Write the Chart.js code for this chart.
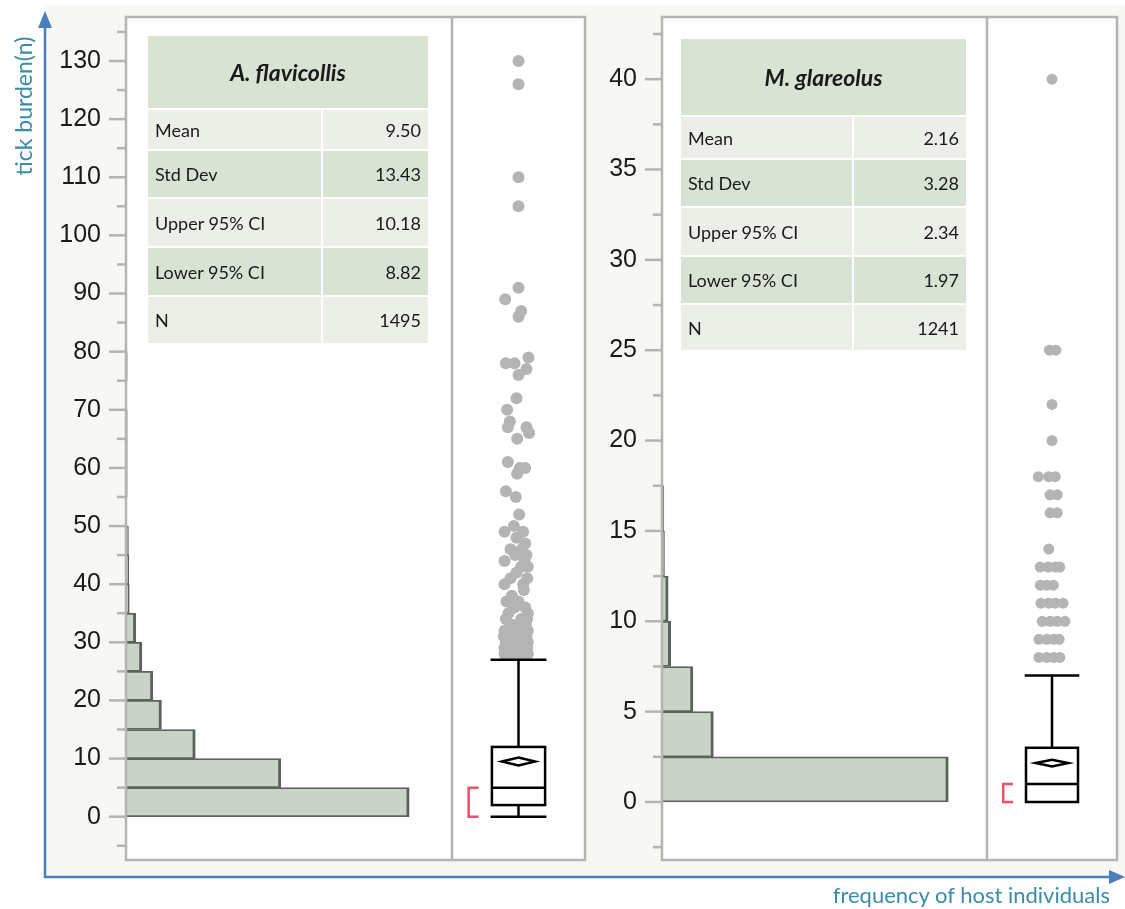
<!DOCTYPE html>
<html>
<head>
<meta charset="utf-8">
<script src="https://cdn.jsdelivr.net/npm/chart.js@4/dist/chart.umd.min.js"></script>
<style>
  body { margin: 0; background: #fff; }
  #wrap { position: relative; width: 1125px; height: 909px; overflow: hidden; font-family: Lato, "Noto Sans", sans-serif; }
  #bg { position: absolute; left: 45px; top: 5px; width: 1080px; height: 872px; background: #f7f8f4; }
  canvas { position: absolute; top: 0; }
  #leftChart { left: 0; }
  #rightChart { left: 590px; }
  svg { position: absolute; left: 0; top: 0; pointer-events: none; }
  .tbl { position: absolute; display: grid; gap: 2px; }
  .tbl div { display: flex; align-items: center; padding: 0 7px; font-size: 18px; color: #1a1a1a; white-space: nowrap; }
  .tbl .t { grid-column: 1 / span 2; justify-content: center; font-weight: bold; font-style: italic; font-size: 23px; }
  .tbl .v { justify-content: flex-end; }
  .dk { background: #d8e3d3; }
  .lt { background: #ebefe8; }
</style>
</head>
<body>
<div id="wrap">
  <div id="bg"></div>
  <canvas id="leftChart" width="600" height="880"></canvas>
  <canvas id="rightChart" width="535" height="880"></canvas>
  <svg width="1125" height="909">
    <line x1="45" y1="878" x2="45" y2="24" stroke="#4a7ebf" stroke-width="2.5"/>
    <polygon points="45,11 38,28 52,28" fill="#4a7ebf"/>
    <line x1="44" y1="877" x2="1112" y2="877" stroke="#4a7ebf" stroke-width="2.5"/>
    <polygon points="1125,877 1109,870 1109,884" fill="#4a7ebf"/>
    <text transform="translate(32,106) rotate(-90)" text-anchor="middle" fill="#3b8ca6" font-family="Lato, sans-serif" font-size="23">tick burden(n)</text>
    <text x="1110" y="903" text-anchor="end" fill="#3b8ca6" font-family="Lato, sans-serif" font-size="22">frequency of host individuals</text>
  </svg>
  <div class="tbl" id="leftTable"></div>
  <div class="tbl" id="rightTable"></div>
</div>
<script>
// ---- A. flavicollis ----
const flavBins = [0, 5, 10, 15, 20, 25, 30, 35, 40, 45, 50, 55, 60, 65, 70, 75]; // bin start
const flavCounts = [695, 380, 170, 87, 66, 39, 24, 8, 7, 6, 0, 3, 3, 3, 0, 3];
const flavOut = [130, 126, 110, 105, 91, 89, 87, 86, 79, 78, 78, 77, 76, 72, 70, 68, 67, 67, 66, 65,
  61, 60, 60, 59, 56, 55, 52, 50, 49, 49, 48, 47, 46, 46, 45, 45, 44, 44, 43, 43, 42, 41, 41, 40, 40,
  39, 38, 37, 37, 36, 36, 35, 35, 34, 34, 34, 33, 33, 33, 32, 32, 32, 32, 31, 31, 31, 31,
  30, 30, 30, 30, 30, 29, 29, 29, 29, 29, 29, 28, 28, 28, 28, 28, 28, 28];
const flavJit = [0, 0, 0, 0, 0, -0.2, 0.04, 0, 0.15, -0.19, -0.06, 0.12, 0, -0.03, -0.17, -0.13, -0.16, 0.12, 0.16, -0.02,
  -0.16, 0.02, 0.1, -0.02, -0.19, -0.04, 0.01, -0.07, -0.21, 0.07, -0.03, 0.1, -0.12, 0.05, 0.12, -0.05, -0.21, 0.09, 0.04, 0.14, -0.03, -0.12, 0.13, -0.21, 0.07,
  0.08, -0.1, -0.18, 0, 0.1, -0.06, 0.14, -0.15, -0.19, 0.04, 0.13, -0.1, 0.11, 0, -0.21, 0.07, -0.06, 0.14, -0.15, 0.02, 0.12, -0.22,
  -0.19, 0.09, -0.05, 0.14, 0.03, -0.21, -0.1, 0.05, 0.13, 0, 0.1, -0.21, -0.12, 0, 0.09, 0.14, -0.05, 0.12];
const flavBox = [0, 2, 5, 12, 27]; // lower whisker, Q1, median, Q3, upper whisker
const flavShort = [0, 5];          // shortest half
const flavStats = [9.50, 13.43, 10.18, 8.82, 1495]; // mean, std dev, upper CI, lower CI, N
const leftTicks = [0, 10, 20, 30, 40, 50, 60, 70, 80, 90, 100, 110, 120, 130];
const leftMinor = [-5, 5, 15, 25, 35, 45, 55, 65, 75, 85, 95, 105, 115, 125, 135];

// ---- M. glareolus ----
const glarBins = [0, 2.5, 5, 7.5, 10, 12.5, 15];
const glarCounts = [925, 166, 100, 28, 20, 8, 6];
const glarOut = [40, 25, 25, 22, 20, 18, 18, 18, 17, 17, 16, 16, 14, 13, 13, 13, 13, 12, 12, 12,
  11, 11, 11, 11, 10, 10, 10, 10, 9, 9, 9, 9, 8, 8, 8, 8];
const glarJit = [0, -0.04, 0.06, 0, 0, -0.21, -0.05, 0.05, -0.03, 0.08, -0.03, 0.08, -0.05, -0.18, -0.06, 0.05, 0.12, -0.18, -0.08, 0.02,
  -0.17, -0.05, 0.05, 0.17, -0.15, -0.03, 0.08, 0.2, -0.2, -0.08, 0.03, 0.11, -0.2, -0.08, 0.03, 0.12];
const glarBox = [0, 0, 1, 3, 7];
const glarShort = [0, 1];
const glarStats = [2.16, 3.28, 2.34, 1.97, 1241];
const rightTicks = [0, 5, 10, 15, 20, 25, 30, 35, 40];
const rightMinor = [-2.5, 2.5, 7.5, 12.5, 17.5, 22.5, 27.5, 32.5, 37.5, 42.5];

const statLabels = ["Mean", "Std Dev", "Upper 95% CI", "Lower 95% CI", "N"];

// draws frame, tick marks and the box plot on top of the datasets
function panelPlugin(cfg) {
  return {
    id: 'panel',
    beforeDraw(chart) {
      const { ctx, chartArea: a } = chart;
      ctx.save();
      ctx.fillStyle = '#ffffff';
      ctx.fillRect(a.left, a.top, a.width, a.height);
      ctx.restore();
    },
    afterDatasetsDraw(chart) {
      const { ctx, chartArea: a, scales } = chart;
      const Y = v => scales.y.getPixelForValue(v);
      const X = v => scales.xb.getPixelForValue(v);
      const line = (x1, y1, x2, y2) => { ctx.beginPath(); ctx.moveTo(x1, y1); ctx.lineTo(x2, y2); ctx.stroke(); };
      ctx.save();
      ctx.strokeStyle = '#b4b4b4';
      ctx.lineWidth = 2.5;
      ctx.strokeRect(a.left, a.top, a.width, a.height);
      line(scales.x.right, a.top, scales.x.right, a.bottom);
      cfg.ticks.forEach(v => line(a.left - 17, Y(v), a.left, Y(v)));
      cfg.minor.forEach(v => line(a.left - 9, Y(v), a.left, Y(v)));

      // box plot
      const [lo, q1, med, q3, hi] = cfg.box;
      ctx.strokeStyle = '#000';
      line(X(0), Y(q3), X(0), Y(hi));
      line(X(-0.42), Y(hi), X(0.42), Y(hi));
      if (q1 > lo) {
        line(X(0), Y(q1), X(0), Y(lo));
        line(X(-0.42), Y(lo), X(0.42), Y(lo));
      }
      ctx.strokeRect(X(-0.4), Y(q3), X(0.4) - X(-0.4), Y(q1) - Y(q3));
      line(X(-0.4), Y(med), X(0.4), Y(med));
      // means diamond
      ctx.beginPath();
      ctx.moveTo(X(-0.25), Y(cfg.stats[0]));
      ctx.lineTo(X(0), Y(cfg.stats[2]));
      ctx.lineTo(X(0.25), Y(cfg.stats[0]));
      ctx.lineTo(X(0), Y(cfg.stats[3]));
      ctx.closePath();
      ctx.stroke();
      // shortest half bracket
      ctx.strokeStyle = '#f0506a';
      ctx.beginPath();
      ctx.moveTo(X(-0.6), Y(cfg.short[1]));
      ctx.lineTo(X(-0.75), Y(cfg.short[1]));
      ctx.lineTo(X(-0.75), Y(cfg.short[0]));
      ctx.lineTo(X(-0.6), Y(cfg.short[0]));
      ctx.stroke();
      ctx.restore();
    }
  };
}

function makePanel(id, cfg) {
  return new Chart(document.getElementById(id), {
    type: 'scatter',
    data: {
      datasets: [
        {
          type: 'bar', indexAxis: 'y', xAxisID: 'x', yAxisID: 'y', grouped: false,
          data: cfg.bins.map((b, i) => ({ x: cfg.counts[i], y: b + cfg.binW / 2 })),
          backgroundColor: '#c9d3c7', borderColor: '#5c635c',
          borderWidth: { top: 1.75, bottom: 1.75, right: 3, left: 0 }, borderSkipped: 'start',
          barPercentage: 1, categoryPercentage: 1
        },
        {
          type: 'scatter', xAxisID: 'xb', yAxisID: 'y',
          data: cfg.out.map((v, i) => ({ x: cfg.jit[i], y: v })),
          pointRadius: cfg.r, backgroundColor: '#b4b4b4', borderWidth: 0
        }
      ]
    },
    options: {
      responsive: false,
      animation: false,
      layout: { padding: { left: 0, top: 17, right: cfg.padR, bottom: 20 } },
      plugins: { legend: { display: false }, tooltip: { enabled: false } },
      scales: {
        x: { type: 'linear', axis: 'x', position: 'bottom', display: false, offset: false, grid: { offset: false },
             min: 0, max: cfg.histMax, stack: 'p', stackWeight: cfg.wHist },
        xb: { type: 'linear', axis: 'x', position: 'bottom', display: false, offset: false, grid: { offset: false },
              min: -1, max: 1, stack: 'p', stackWeight: cfg.wBox },
        y: {
          type: 'linear', position: 'left', min: cfg.yMin, max: cfg.yMax, offset: false,
          grid: { display: false, drawTicks: false, offset: false }, border: { display: false },
          afterBuildTicks: s => { s.ticks = cfg.ticks.map(v => ({ value: v })); },
          afterFit: s => { s.width = cfg.axisW; s.paddingTop = 0; s.paddingBottom = 0; },
          ticks: { padding: 25, autoSkip: false, color: '#1a1a1a', font: { family: '"Liberation Sans", Arial, sans-serif', size: 25 } }
        }
      }
    },
    plugins: [panelPlugin(cfg)]
  });
}

function buildTable(id, title, stats, geo) {
  const el = document.getElementById(id);
  el.style.left = geo.left + 'px';
  el.style.top = geo.top + 'px';
  el.style.gridTemplateColumns = geo.cols.map(c => c + 'px').join(' ');
  el.style.gridTemplateRows = geo.rows.map(r => r + 'px').join(' ');
  let html = `<div class="t dk">${title}</div>`;
  statLabels.forEach((lab, i) => {
    const cls = i % 2 === 0 ? 'lt' : 'dk';
    const val = i === 4 ? String(stats[i]) : stats[i].toFixed(2);
    html += `<div class="${cls}">${lab}</div><div class="${cls} v">${val}</div>`;
  });
  el.innerHTML = html;
}

makePanel('leftChart', {
  bins: flavBins, counts: flavCounts, binW: 5, out: flavOut, jit: flavJit, r: 6,
  box: flavBox, short: flavShort, stats: flavStats, ticks: leftTicks, minor: leftMinor,
  yMin: -7.45, yMax: 137.57, histMax: 800, wHist: 326, wBox: 133, axisW: 126, padR: 15
});
makePanel('rightChart', {
  bins: glarBins, counts: glarCounts, binW: 2.5, out: glarOut, jit: glarJit, r: 5.5,
  box: glarBox, short: glarShort, stats: glarStats, ticks: rightTicks, minor: rightMinor,
  yMin: -3.21, yMax: 43.44, histMax: 1050, wHist: 325, wBox: 130, axisW: 72, padR: 8
});

buildTable('leftTable', 'A. flavicollis', flavStats, { left: 148, top: 36, cols: [173, 105], rows: [72, 39, 46, 47, 47, 46] });
buildTable('rightTable', 'M. glareolus', glarStats, { left: 681, top: 39, cols: [171, 112], rows: [76, 41, 46, 47, 46, 45] });
</script>
</body>
</html>
